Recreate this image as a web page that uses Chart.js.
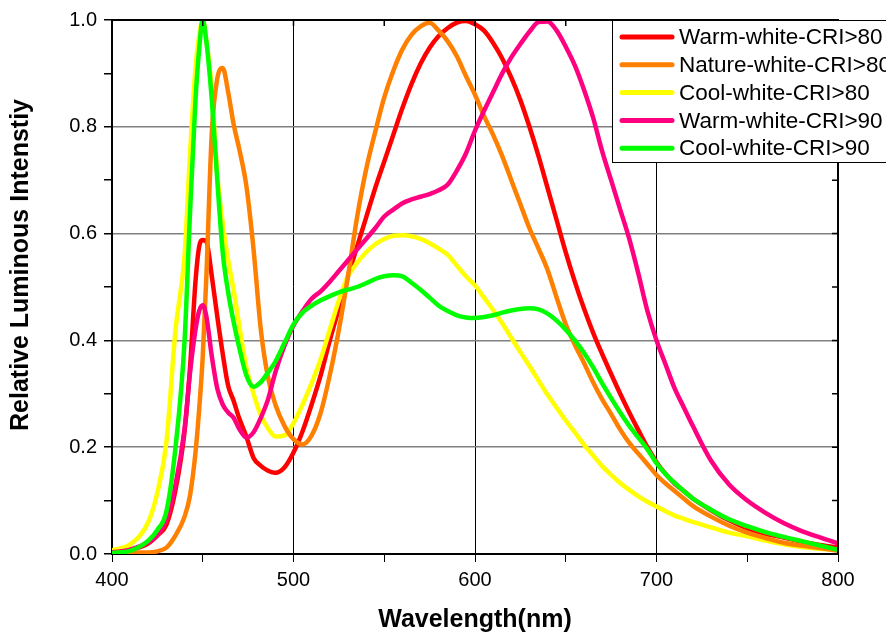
<!DOCTYPE html>
<html>
<head>
<meta charset="utf-8">
<script src="https://cdn.jsdelivr.net/npm/chart.js@4.4.1/dist/chart.umd.min.js"></script>
<style>
  html, body { margin: 0; padding: 0; background: #fff; }
</style>
</head>
<body>
<canvas id="chart" width="886" height="637"></canvas>
<script>
'use strict';

// wavelength grid (nm) shared by all five spectra
const wavelengths = [400, 410, 420, 425, 430, 435, 440, 443, 446, 448, 450, 452, 455, 458, 461, 464, 467, 470, 474, 478, 482, 486, 490, 495, 500, 505, 510, 515,
  520, 525, 530, 535, 540, 545, 550, 555, 560, 565, 570, 575, 580, 585, 590, 595, 600, 605, 610, 615, 620, 625, 630, 635, 640, 645, 650, 655, 660, 665, 670, 675, 680, 685, 690, 695, 700, 705, 710, 715, 720,
  730, 740, 750, 760, 770, 780, 790, 800];

const warmWhite80 = [0.005, 0.008, 0.02, 0.035, 0.055, 0.12, 0.23, 0.35, 0.51, 0.575, 0.588, 0.585, 0.52, 0.445, 0.375, 0.315, 0.287, 0.255, 0.22, 0.18, 0.165, 0.156, 0.152, 0.162, 0.19, 0.23, 0.28, 0.335,
  0.40, 0.46, 0.52, 0.575, 0.63, 0.685, 0.735, 0.785, 0.835, 0.88, 0.918, 0.948, 0.97, 0.985, 0.995, 0.998, 0.992, 0.98, 0.957, 0.928, 0.892, 0.85, 0.80, 0.745, 0.685, 0.625, 0.565, 0.51, 0.46, 0.415, 0.375, 0.337, 0.30, 0.265, 0.232, 0.2, 0.172, 0.15, 0.132, 0.118, 0.104,
  0.082, 0.063, 0.048, 0.038, 0.031, 0.023, 0.017, 0.012];

const natureWhite80 = [0.003, 0.003, 0.003, 0.005, 0.012, 0.035, 0.07, 0.11, 0.19, 0.27, 0.37, 0.52, 0.79, 0.89, 0.91, 0.865, 0.805, 0.76, 0.69, 0.57, 0.42, 0.33, 0.28, 0.24, 0.215, 0.205, 0.222, 0.265,
  0.335, 0.42, 0.52, 0.63, 0.72, 0.79, 0.855, 0.905, 0.945, 0.972, 0.988, 0.995, 0.98, 0.96, 0.932, 0.895, 0.86, 0.82, 0.785, 0.745, 0.70, 0.655, 0.61, 0.572, 0.532, 0.48, 0.43, 0.392, 0.358, 0.322, 0.29, 0.262, 0.233, 0.208, 0.188, 0.168, 0.148, 0.132, 0.118, 0.104, 0.09,
  0.07, 0.053, 0.04, 0.03, 0.021, 0.016, 0.011, 0.006];

const coolWhite80 = [0.007, 0.018, 0.06, 0.115, 0.21, 0.42, 0.56, 0.75, 0.91, 0.97, 1.0, 0.96, 0.87, 0.71, 0.62, 0.55, 0.495, 0.43, 0.35, 0.30, 0.26, 0.235, 0.22, 0.222, 0.245, 0.28, 0.32, 0.365,
  0.42, 0.475, 0.52, 0.545, 0.565, 0.58, 0.59, 0.596, 0.597, 0.595, 0.59, 0.582, 0.572, 0.56, 0.54, 0.52, 0.503, 0.48, 0.457, 0.432, 0.405, 0.378, 0.352, 0.325, 0.298, 0.274, 0.25, 0.228, 0.205, 0.185, 0.165, 0.148, 0.133, 0.12, 0.108, 0.098, 0.089, 0.08, 0.072, 0.066, 0.06,
  0.05, 0.04, 0.033, 0.025, 0.018, 0.013, 0.01, 0.008];

const warmWhite90 = [0.003, 0.008, 0.022, 0.035, 0.065, 0.13, 0.235, 0.34, 0.42, 0.455, 0.466, 0.445, 0.37, 0.31, 0.28, 0.265, 0.255, 0.235, 0.218, 0.228, 0.255, 0.29, 0.34, 0.39, 0.428, 0.455, 0.478, 0.492,
  0.51, 0.53, 0.55, 0.57, 0.59, 0.61, 0.632, 0.645, 0.657, 0.664, 0.669, 0.674, 0.681, 0.692, 0.718, 0.75, 0.793, 0.83, 0.865, 0.9, 0.93, 0.955, 0.978, 0.996, 0.997, 0.98, 0.95, 0.915, 0.87, 0.818, 0.755, 0.7, 0.645, 0.59, 0.525, 0.455, 0.4, 0.355, 0.31, 0.275, 0.24,
  0.175, 0.13, 0.1, 0.077, 0.058, 0.043, 0.031, 0.02];

const coolWhite90 = [0.002, 0.006, 0.025, 0.045, 0.08, 0.2, 0.4, 0.64, 0.85, 0.944, 1.0, 0.96, 0.85, 0.7, 0.565, 0.49, 0.435, 0.388, 0.335, 0.313, 0.322, 0.34, 0.36, 0.395, 0.43, 0.452, 0.465, 0.475,
  0.483, 0.49, 0.495, 0.5, 0.507, 0.515, 0.52, 0.522, 0.52, 0.508, 0.495, 0.48, 0.465, 0.455, 0.447, 0.443, 0.442, 0.444, 0.447, 0.452, 0.456, 0.459, 0.46, 0.458, 0.45, 0.437, 0.42, 0.4, 0.377, 0.35, 0.32, 0.292, 0.265, 0.24, 0.218, 0.196, 0.17, 0.15, 0.133, 0.118, 0.104,
  0.083, 0.065, 0.052, 0.041, 0.032, 0.024, 0.016, 0.008];

const seriesNames = ['Warm-white-CRI>80', 'Nature-white-CRI>80', 'Cool-white-CRI>80', 'Warm-white-CRI>90', 'Cool-white-CRI>90'];

const FONT = '"Liberation Sans", Arial, sans-serif';

function pts(values) {
  return wavelengths.map((w, i) => ({ x: w, y: values[i] }));
}

function line(label, values, color, order) {
  return {
    label: label,
    data: pts(values),
    borderColor: color,
    backgroundColor: color,
    borderWidth: 4.5,
    pointRadius: 0,
    fill: false,
    cubicInterpolationMode: 'monotone',
    order: order,
  };
}

// frame on top/right with inward ticks, legend box, y title
const decorations = {
  id: 'decorations',
  afterDraw(chart) {
    const ctx = chart.ctx;
    const a = chart.chartArea;
    const xs = chart.scales.x;
    const ys = chart.scales.y;
    ctx.save();
    ctx.strokeStyle = '#000';
    ctx.lineWidth = 2;
    ctx.beginPath();
    ctx.moveTo(a.left, a.top);
    ctx.lineTo(a.right, a.top);
    ctx.lineTo(a.right, a.bottom);
    ctx.stroke();

    ctx.lineWidth = 1.5;
    ctx.beginPath();
    for (let w = 450; w < 800; w += 50) {
      const px = xs.getPixelForValue(w);
      ctx.moveTo(px, a.top);
      ctx.lineTo(px, a.top + 6);
    }
    for (let k = 1; k < 10; k++) {
      const py = ys.getPixelForValue(k / 10);
      ctx.moveTo(a.right, py);
      ctx.lineTo(a.right - 6, py);
    }
    ctx.stroke();

    // legend
    const lx = 612, ly = a.top, lw = 300, lh = 142;
    ctx.fillStyle = '#fff';
    ctx.fillRect(lx, ly, lw, lh);
    ctx.lineWidth = 1;
    ctx.strokeRect(lx + 0.5, ly + 0.5, lw, lh);
    ctx.font = '22.5px ' + FONT;
    ctx.textBaseline = 'middle';
    ctx.textAlign = 'left';
    ctx.lineCap = 'round';
    chart.data.datasets.forEach((ds, i) => {
      const ry = ly + 17 + i * 27.8;
      ctx.strokeStyle = ds.borderColor;
      ctx.lineWidth = 5;
      ctx.beginPath();
      ctx.moveTo(622, ry);
      ctx.lineTo(672, ry);
      ctx.stroke();
      ctx.fillStyle = '#000';
      ctx.fillText(ds.label, 679, ry + 1);
    });

    // y axis title
    ctx.translate(21, 265);
    ctx.rotate(-Math.PI / 2);
    ctx.font = 'bold 25px ' + FONT;
    ctx.textAlign = 'center';
    ctx.fillStyle = '#000';
    ctx.fillText('Relative Luminous Intenstiy', 0, 0);
    ctx.restore();
  }
};

new Chart(document.getElementById('chart'), {
  type: 'line',
  data: {
    datasets: [
      line(seriesNames[0], warmWhite80, '#ff0000', 4),
      line(seriesNames[1], natureWhite80, '#ff8000', 2),
      line(seriesNames[2], coolWhite80, '#ffff00', 3),
      line(seriesNames[3], warmWhite90, '#ff0080', 1),
      line(seriesNames[4], coolWhite90, '#00ff00', 0),
    ],
  },
  options: {
    responsive: false,
    animation: false,
    layout: { padding: { top: 20, right: 48, left: 0, bottom: 0 } },
    plugins: {
      legend: { display: false },
      tooltip: { enabled: false },
    },
    scales: {
      x: {
        type: 'linear',
        min: 400,
        max: 800,
        afterFit: s => { s.height = 83; },
        ticks: {
          stepSize: 50,
          autoSkip: false,
          maxRotation: 0,
          padding: 6,
          color: '#000',
          font: { family: FONT, size: 20 },
          callback: v => (v % 100 === 0 ? String(v) : ''),
        },
        grid: {
          color: c => {
            const v = c.tick ? c.tick.value : 0;
            return (v % 100 === 0 && v > 400 && v < 800) ? '#000' : 'rgba(0,0,0,0)';
          },
          tickColor: '#000',
          tickLength: 8,
          lineWidth: 1,
        },
        border: { color: '#000', width: 2 },
        title: {
          display: true,
          text: 'Wavelength(nm)',
          color: '#000',
          font: { family: FONT, size: 25, weight: 'bold' },
          padding: { top: 0, bottom: 2 },
        },
      },
      y: {
        min: 0,
        max: 1,
        afterFit: s => { s.width = 112; },
        ticks: {
          stepSize: 0.1,
          autoSkip: false,
          padding: 7,
          color: '#000',
          font: { family: FONT, size: 20 },
          callback: v => (Math.round(v * 10) % 2 === 0 ? v.toFixed(1) : ''),
        },
        grid: {
          color: c => {
            const k = c.tick ? Math.round(c.tick.value * 10) : 0;
            return (k % 2 === 0 && k > 0 && k < 10) ? '#808080' : 'rgba(0,0,0,0)';
          },
          tickColor: '#000',
          tickLength: 8,
          lineWidth: 1.5,
        },
        border: { color: '#000', width: 2 },
      },
    },
  },
  plugins: [decorations],
});
</script>
</body>
</html>
